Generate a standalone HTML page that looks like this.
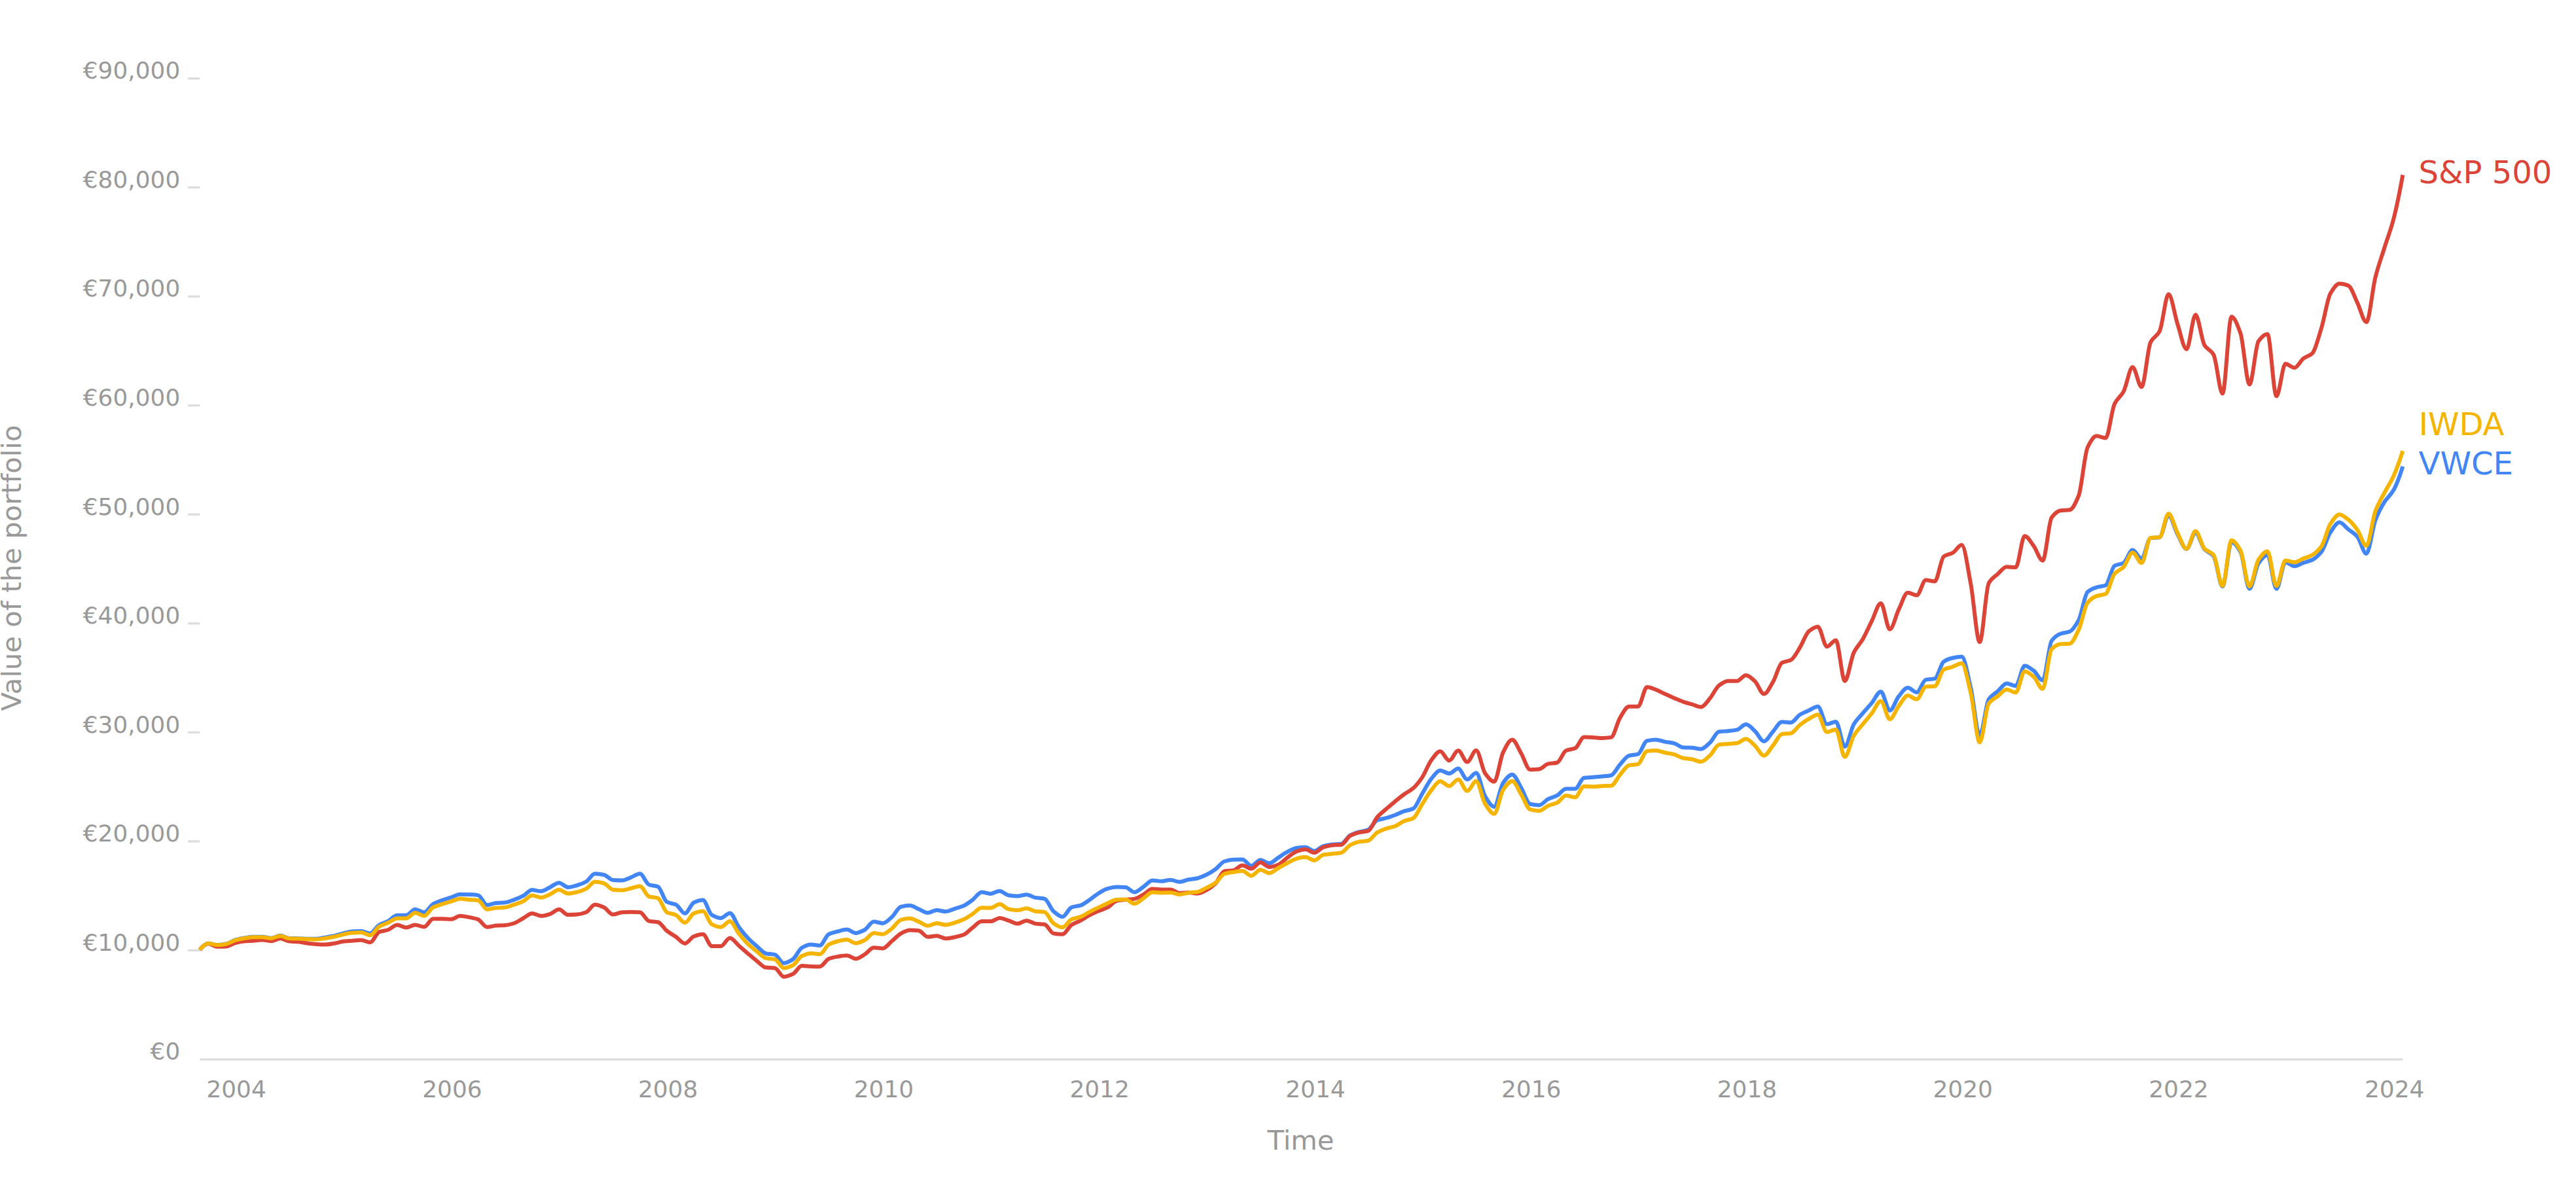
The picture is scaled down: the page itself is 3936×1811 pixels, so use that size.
<!DOCTYPE html>
<html><head><meta charset="utf-8"><title>Portfolio value over time</title>
<style>
html,body{margin:0;padding:0;background:#fff;}
svg{display:block;}
text{font-family:"DejaVu Sans","Liberation Sans",sans-serif;}
.t{font-size:36.3px;fill:#999999;}
.a{font-size:41.67px;fill:#999999;}
.s{font-size:48px;}
.l{fill:none;stroke-width:6;stroke-linejoin:round;stroke-linecap:butt;}
</style></head><body>
<svg width="3936" height="1811" viewBox="0 0 3936 1811">
<rect width="3936" height="1811" fill="#ffffff"/>
<text class="t" transform="translate(275.3 1619.3) scale(0.99 1)" text-anchor="end">€0</text>
<text class="t" transform="translate(275.3 1452.7) scale(0.99 1)" text-anchor="end">€10,000</text>
<line x1="287" y1="1452.4" x2="305.3" y2="1452.4" stroke="#dddddd" stroke-width="3.3"/>
<text class="t" transform="translate(275.3 1286.2) scale(0.99 1)" text-anchor="end">€20,000</text>
<line x1="287" y1="1285.9" x2="305.3" y2="1285.9" stroke="#dddddd" stroke-width="3.3"/>
<text class="t" transform="translate(275.3 1119.6) scale(0.99 1)" text-anchor="end">€30,000</text>
<line x1="287" y1="1119.3" x2="305.3" y2="1119.3" stroke="#dddddd" stroke-width="3.3"/>
<text class="t" transform="translate(275.3 953.1) scale(0.99 1)" text-anchor="end">€40,000</text>
<line x1="287" y1="952.8" x2="305.3" y2="952.8" stroke="#dddddd" stroke-width="3.3"/>
<text class="t" transform="translate(275.3 786.5) scale(0.99 1)" text-anchor="end">€50,000</text>
<line x1="287" y1="786.2" x2="305.3" y2="786.2" stroke="#dddddd" stroke-width="3.3"/>
<text class="t" transform="translate(275.3 619.9) scale(0.99 1)" text-anchor="end">€60,000</text>
<line x1="287" y1="619.6" x2="305.3" y2="619.6" stroke="#dddddd" stroke-width="3.3"/>
<text class="t" transform="translate(275.3 453.4) scale(0.99 1)" text-anchor="end">€70,000</text>
<line x1="287" y1="453.1" x2="305.3" y2="453.1" stroke="#dddddd" stroke-width="3.3"/>
<text class="t" transform="translate(275.3 286.8) scale(0.99 1)" text-anchor="end">€80,000</text>
<line x1="287" y1="286.5" x2="305.3" y2="286.5" stroke="#dddddd" stroke-width="3.3"/>
<text class="t" transform="translate(275.3 120.3) scale(0.99 1)" text-anchor="end">€90,000</text>
<line x1="287" y1="120.0" x2="305.3" y2="120.0" stroke="#dddddd" stroke-width="3.3"/>
<line x1="305.3" y1="1619.1" x2="3671.3" y2="1619.1" stroke="#dddddd" stroke-width="3.3"/>
<text class="t" transform="translate(361.1 1677) scale(0.99 1)" text-anchor="middle">2004</text>
<text class="t" transform="translate(690.9 1677) scale(0.99 1)" text-anchor="middle">2006</text>
<text class="t" transform="translate(1020.6 1677) scale(0.99 1)" text-anchor="middle">2008</text>
<text class="t" transform="translate(1350.4 1677) scale(0.99 1)" text-anchor="middle">2010</text>
<text class="t" transform="translate(1680.1 1677) scale(0.99 1)" text-anchor="middle">2012</text>
<text class="t" transform="translate(2009.9 1677) scale(0.99 1)" text-anchor="middle">2014</text>
<text class="t" transform="translate(2339.7 1677) scale(0.99 1)" text-anchor="middle">2016</text>
<text class="t" transform="translate(2669.4 1677) scale(0.99 1)" text-anchor="middle">2018</text>
<text class="t" transform="translate(2999.2 1677) scale(0.99 1)" text-anchor="middle">2020</text>
<text class="t" transform="translate(3328.9 1677) scale(0.99 1)" text-anchor="middle">2022</text>
<text class="t" transform="translate(3658.7 1677) scale(0.99 1)" text-anchor="middle">2024</text>
<text class="a" x="1987.5" y="1756.8" text-anchor="middle">Time</text>
<text class="a" transform="translate(32.2 868.0) rotate(-90)" text-anchor="middle">Value of the portfolio</text>
<path class="l" stroke="#4285F4" d="M305.3 1451.5C309.6 1446.3 314.0 1441.8 318.3 1441.8C322.9 1441.8 327.5 1444.3 332.1 1444.3C336.7 1444.3 341.2 1443.4 345.8 1442.5C350.4 1441.6 355.0 1437.8 359.6 1436.5C364.1 1435.2 368.7 1434.2 373.3 1433.5C377.9 1432.7 382.5 1431.7 387.0 1431.7C391.6 1431.7 396.2 1431.7 400.8 1431.7C405.4 1431.7 409.9 1433.7 414.5 1433.7C419.1 1433.7 423.7 1429.8 428.3 1429.8C432.8 1429.8 437.4 1433.9 442.0 1434.0C446.6 1434.1 451.1 1434.1 455.7 1434.2C460.3 1434.2 464.9 1434.6 469.5 1434.7C474.0 1434.7 478.6 1434.8 483.2 1434.8C487.8 1434.8 492.4 1433.4 496.9 1432.7C501.5 1431.9 506.1 1431.1 510.7 1430.2C515.3 1429.2 519.8 1427.6 524.4 1426.5C529.0 1425.4 533.6 1423.7 538.2 1423.5C542.7 1423.3 547.3 1423.1 551.9 1423.1C556.5 1423.1 561.1 1426.5 565.6 1426.5C570.2 1426.5 574.8 1416.1 579.4 1413.5C584.0 1410.8 588.5 1410.0 593.1 1407.6C597.7 1405.3 602.3 1398.8 606.9 1398.8C611.4 1398.8 616.0 1398.8 620.6 1398.8C625.2 1398.8 629.8 1389.7 634.3 1389.7C638.9 1389.7 643.5 1394.3 648.1 1394.3C652.7 1394.3 657.2 1384.4 661.8 1381.7C666.4 1379.1 671.0 1377.6 675.6 1375.9C680.1 1374.2 684.7 1372.9 689.3 1371.4C693.9 1369.9 698.5 1366.7 703.0 1366.7C707.6 1366.7 712.2 1366.9 716.8 1367.1C721.3 1367.2 725.9 1367.4 730.5 1368.1C735.1 1368.7 739.7 1383.1 744.2 1383.1C748.8 1383.1 753.4 1380.5 758.0 1380.1C762.6 1379.6 767.1 1379.7 771.7 1379.2C776.3 1378.8 780.9 1376.7 785.5 1375.1C790.0 1373.5 794.6 1371.6 799.2 1369.2C803.8 1366.9 808.4 1360.1 812.9 1360.1C817.5 1360.1 822.1 1362.1 826.7 1362.1C831.3 1362.1 835.8 1358.0 840.4 1355.9C845.0 1353.7 849.6 1349.2 854.2 1349.2C858.7 1349.2 863.3 1355.9 867.9 1355.9C872.5 1355.9 877.1 1354.3 881.6 1353.0C886.2 1351.8 890.8 1350.1 895.4 1347.5C900.0 1345.0 904.5 1335.3 909.1 1335.3C913.7 1335.3 918.3 1336.1 922.9 1337.0C927.4 1337.9 932.0 1344.7 936.6 1345.0C941.2 1345.3 945.8 1345.5 950.3 1345.5C954.9 1345.5 959.5 1342.5 964.1 1340.9C968.7 1339.2 973.2 1335.3 977.8 1335.3C982.4 1335.3 987.0 1350.3 991.6 1352.0C996.1 1353.7 1000.7 1353.3 1005.3 1355.0C1009.9 1356.8 1014.4 1376.1 1019.0 1378.4C1023.6 1380.8 1028.2 1380.5 1032.8 1382.6C1037.3 1384.7 1041.9 1395.9 1046.5 1395.9C1051.1 1395.9 1055.7 1381.3 1060.2 1379.2C1064.8 1377.2 1069.4 1375.6 1074.0 1375.6C1078.6 1375.6 1083.1 1395.9 1087.7 1398.4C1092.3 1401.0 1096.9 1403.0 1101.5 1403.0C1106.0 1403.0 1110.6 1395.4 1115.2 1395.4C1119.8 1395.4 1124.4 1410.6 1128.9 1416.8C1133.5 1423.1 1138.1 1428.7 1142.7 1433.5C1147.3 1438.3 1151.8 1442.1 1156.4 1446.0C1161.0 1450.0 1165.6 1456.2 1170.2 1457.2C1174.7 1458.2 1179.3 1457.9 1183.9 1458.9C1188.5 1459.9 1193.1 1471.9 1197.6 1471.9C1202.2 1471.9 1206.8 1469.0 1211.4 1466.1C1216.0 1463.1 1220.5 1451.1 1225.1 1448.5C1229.7 1445.9 1234.3 1443.5 1238.9 1443.5C1243.4 1443.5 1248.0 1444.9 1252.6 1444.9C1257.2 1444.9 1261.8 1429.9 1266.3 1427.7C1270.9 1425.4 1275.5 1424.7 1280.1 1423.5C1284.6 1422.3 1289.2 1420.5 1293.8 1420.5C1298.4 1420.5 1303.0 1426.0 1307.5 1426.0C1312.1 1426.0 1316.7 1423.4 1321.3 1421.0C1325.9 1418.6 1330.4 1408.5 1335.0 1408.5C1339.6 1408.5 1344.2 1411.0 1348.8 1411.0C1353.3 1411.0 1357.9 1405.7 1362.5 1401.8C1367.1 1397.9 1371.7 1387.2 1376.2 1385.9C1380.8 1384.7 1385.4 1383.8 1390.0 1383.8C1394.6 1383.8 1399.1 1387.4 1403.7 1389.3C1408.3 1391.2 1412.9 1395.1 1417.5 1395.1C1422.0 1395.1 1426.6 1390.9 1431.2 1390.9C1435.8 1390.9 1440.4 1393.1 1444.9 1393.1C1449.5 1393.1 1454.1 1390.2 1458.7 1388.8C1463.3 1387.3 1467.8 1386.3 1472.4 1384.3C1477.0 1382.2 1481.6 1378.5 1486.2 1375.1C1490.7 1371.6 1495.3 1363.4 1499.9 1363.4C1504.5 1363.4 1509.1 1365.9 1513.6 1365.9C1518.2 1365.9 1522.8 1361.7 1527.4 1361.7C1532.0 1361.7 1536.5 1367.6 1541.1 1368.2C1545.7 1368.9 1550.3 1369.4 1554.8 1369.4C1559.4 1369.4 1564.0 1367.2 1568.6 1367.2C1573.2 1367.2 1577.7 1371.1 1582.3 1371.9C1586.9 1372.7 1591.5 1372.5 1596.1 1373.6C1600.6 1374.6 1605.2 1388.9 1609.8 1392.8C1614.4 1396.6 1619.0 1401.1 1623.5 1401.1C1628.1 1401.1 1632.7 1388.2 1637.3 1386.6C1641.9 1384.9 1646.4 1385.0 1651.0 1383.6C1655.6 1382.1 1660.2 1378.3 1664.8 1375.2C1669.3 1372.2 1673.9 1368.0 1678.5 1365.2C1683.1 1362.5 1687.7 1359.5 1692.2 1358.2C1696.8 1356.9 1701.4 1355.5 1706.0 1355.5C1710.6 1355.5 1715.1 1355.7 1719.7 1356.0C1724.3 1356.3 1728.9 1363.5 1733.5 1363.5C1738.0 1363.5 1742.6 1358.2 1747.2 1355.2C1751.8 1352.2 1756.4 1345.5 1760.9 1345.5C1765.5 1345.5 1770.1 1346.8 1774.7 1346.8C1779.3 1346.8 1783.8 1344.8 1788.4 1344.8C1793.0 1344.8 1797.6 1347.7 1802.2 1347.7C1806.7 1347.7 1811.3 1345.2 1815.9 1344.3C1820.5 1343.5 1825.0 1343.2 1829.6 1342.2C1834.2 1341.1 1838.8 1339.0 1843.4 1336.8C1847.9 1334.7 1852.5 1331.8 1857.1 1328.5C1861.7 1325.2 1866.3 1317.9 1870.8 1316.5C1875.4 1315.0 1880.0 1314.0 1884.6 1313.8C1889.2 1313.6 1893.7 1313.5 1898.3 1313.5C1902.9 1313.5 1907.5 1323.1 1912.1 1323.1C1916.6 1323.1 1921.2 1314.3 1925.8 1314.3C1930.4 1314.3 1935.0 1319.3 1939.5 1319.3C1944.1 1319.3 1948.7 1313.5 1953.3 1310.6C1957.9 1307.7 1962.4 1304.3 1967.0 1301.9C1971.6 1299.6 1976.2 1296.6 1980.8 1295.9C1985.3 1295.3 1989.9 1294.8 1994.5 1294.8C1999.1 1294.8 2003.7 1300.6 2008.2 1300.6C2012.8 1300.6 2017.4 1294.3 2022.0 1293.1C2026.6 1291.8 2031.1 1291.0 2035.7 1290.6C2040.3 1290.2 2044.9 1290.3 2049.5 1289.7C2054.0 1289.2 2058.6 1278.8 2063.2 1276.4C2067.8 1274.0 2072.4 1272.7 2076.9 1271.4C2081.5 1270.0 2086.1 1269.9 2090.7 1268.0C2095.2 1266.2 2099.8 1255.3 2104.4 1253.5C2109.0 1251.7 2113.6 1251.5 2118.1 1250.2C2122.7 1248.9 2127.3 1247.2 2131.9 1245.5C2136.5 1243.8 2141.0 1241.2 2145.6 1239.7C2150.2 1238.1 2154.8 1238.0 2159.4 1235.8C2163.9 1233.6 2168.5 1220.5 2173.1 1213.0C2177.7 1205.4 2182.3 1195.9 2186.8 1190.4C2191.4 1184.9 2196.0 1177.4 2200.6 1177.4C2205.2 1177.4 2209.7 1182.1 2214.3 1182.1C2218.9 1182.1 2223.5 1174.6 2228.1 1174.6C2232.6 1174.6 2237.2 1191.2 2241.8 1191.2C2246.4 1191.2 2251.0 1181.2 2255.5 1181.2C2260.1 1181.2 2264.7 1209.8 2269.3 1217.1C2273.9 1224.5 2278.4 1233.0 2283.0 1233.0C2287.6 1233.0 2292.2 1202.5 2296.8 1196.3C2301.3 1190.0 2305.9 1183.7 2310.5 1183.7C2315.1 1183.7 2319.7 1196.3 2324.2 1203.8C2328.8 1211.2 2333.4 1227.8 2338.0 1228.8C2342.6 1229.9 2347.1 1230.5 2351.7 1230.5C2356.3 1230.5 2360.9 1223.6 2365.4 1221.2C2370.0 1218.9 2374.6 1218.1 2379.2 1215.7C2383.8 1213.3 2388.3 1205.5 2392.9 1205.5C2397.5 1205.5 2402.1 1205.5 2406.7 1205.5C2411.2 1205.5 2415.8 1189.3 2420.4 1188.7C2425.0 1188.2 2429.6 1188.2 2434.1 1187.8C2438.7 1187.5 2443.3 1187.0 2447.9 1186.5C2452.5 1186.1 2457.0 1185.9 2461.6 1185.0C2466.2 1184.1 2470.8 1173.3 2475.4 1168.3C2479.9 1163.3 2484.5 1156.0 2489.1 1154.8C2493.7 1153.5 2498.3 1153.9 2502.8 1152.5C2507.4 1151.2 2512.0 1133.0 2516.6 1132.1C2521.2 1131.2 2525.7 1130.6 2530.3 1130.6C2534.9 1130.6 2539.5 1132.8 2544.1 1133.6C2548.6 1134.5 2553.2 1134.7 2557.8 1135.8C2562.4 1136.9 2567.0 1142.1 2571.5 1142.3C2576.1 1142.6 2580.7 1142.5 2585.3 1142.7C2589.9 1142.9 2594.4 1144.7 2599.0 1144.7C2603.6 1144.7 2608.2 1139.0 2612.8 1134.9C2617.3 1130.8 2621.9 1118.8 2626.5 1118.2C2631.1 1117.6 2635.7 1117.7 2640.2 1117.3C2644.8 1116.9 2649.4 1116.4 2654.0 1115.4C2658.5 1114.4 2663.1 1107.1 2667.7 1107.1C2672.3 1107.1 2676.9 1113.1 2681.4 1117.3C2686.0 1121.4 2690.6 1133.0 2695.2 1133.0C2699.8 1133.0 2704.3 1123.1 2708.9 1118.2C2713.5 1113.2 2718.1 1103.3 2722.7 1103.3C2727.2 1103.3 2731.8 1104.3 2736.4 1104.3C2741.0 1104.3 2745.6 1095.0 2750.1 1092.2C2754.7 1089.4 2759.3 1087.8 2763.9 1085.7C2768.5 1083.6 2773.0 1079.8 2777.6 1079.8C2782.2 1079.8 2786.8 1106.7 2791.4 1106.7C2795.9 1106.7 2800.5 1103.0 2805.1 1103.0C2809.7 1103.0 2814.3 1141.0 2818.8 1141.0C2823.4 1141.0 2828.0 1114.2 2832.6 1106.7C2837.2 1099.2 2841.7 1095.4 2846.3 1090.0C2850.9 1084.6 2855.5 1079.7 2860.1 1074.2C2864.6 1068.7 2869.2 1056.9 2873.8 1056.9C2878.4 1056.9 2883.0 1085.9 2887.5 1085.9C2892.1 1085.9 2896.7 1069.4 2901.3 1064.0C2905.9 1058.5 2910.4 1051.0 2915.0 1051.0C2919.6 1051.0 2924.2 1058.0 2928.7 1058.0C2933.3 1058.0 2937.9 1040.0 2942.5 1038.9C2947.1 1037.8 2951.6 1038.2 2956.2 1037.1C2960.8 1035.9 2965.4 1014.1 2970.0 1011.1C2974.5 1008.0 2979.1 1006.4 2983.7 1005.5C2988.3 1004.6 2992.9 1003.6 2997.4 1003.6C3002.0 1003.6 3006.6 1031.8 3011.2 1051.0C3015.8 1070.2 3020.3 1124.3 3024.9 1124.3C3029.5 1124.3 3034.1 1075.2 3038.7 1068.6C3043.2 1062.0 3047.8 1060.6 3052.4 1056.5C3057.0 1052.5 3061.6 1044.5 3066.1 1044.5C3070.7 1044.5 3075.3 1048.2 3079.9 1048.2C3084.5 1048.2 3089.0 1017.6 3093.6 1017.6C3098.2 1017.6 3102.8 1021.7 3107.4 1025.0C3111.9 1028.3 3116.5 1039.8 3121.1 1039.8C3125.7 1039.8 3130.3 985.3 3134.8 979.2C3139.4 973.1 3144.0 970.1 3148.6 968.5C3153.2 966.9 3157.7 967.1 3162.3 965.3C3166.9 963.5 3171.5 956.0 3176.1 947.6C3180.6 939.2 3185.2 908.6 3189.8 904.6C3194.4 900.6 3198.9 899.0 3203.5 897.6C3208.1 896.1 3212.7 896.3 3217.3 894.4C3221.8 892.5 3226.4 867.3 3231.0 864.7C3235.6 862.1 3240.2 862.7 3244.7 860.3C3249.3 857.8 3253.9 840.6 3258.5 840.6C3263.1 840.6 3267.6 853.9 3272.2 853.9C3276.8 853.9 3281.4 822.9 3286.0 822.3C3290.5 821.6 3295.1 821.9 3299.7 821.3C3304.3 820.6 3308.9 787.8 3313.4 787.8C3318.0 787.8 3322.6 808.2 3327.2 816.6C3331.8 825.0 3336.3 838.9 3340.9 838.9C3345.5 838.9 3350.1 814.2 3354.7 814.2C3359.2 814.2 3363.8 834.7 3368.4 839.5C3373.0 844.3 3377.6 844.1 3382.1 849.6C3386.7 855.2 3391.3 896.3 3395.9 896.3C3400.5 896.3 3405.0 828.5 3409.6 828.5C3414.2 828.5 3418.8 835.5 3423.4 843.4C3427.9 851.2 3432.5 900.0 3437.1 900.0C3441.7 900.0 3446.3 867.5 3450.8 861.0C3455.4 854.5 3460.0 848.0 3464.6 848.0C3469.1 848.0 3473.7 900.0 3478.3 900.0C3482.9 900.0 3487.5 859.2 3492.0 859.2C3496.6 859.2 3501.2 865.3 3505.8 865.3C3510.4 865.3 3514.9 861.7 3519.5 860.1C3524.1 858.5 3528.7 857.7 3533.3 855.5C3537.8 853.2 3542.4 849.1 3547.0 843.4C3551.6 837.7 3556.2 820.4 3560.7 813.7C3565.3 806.9 3569.9 798.3 3574.5 798.3C3579.1 798.3 3583.6 805.4 3588.2 809.0C3592.8 812.7 3597.4 815.0 3602.0 820.2C3606.5 825.4 3611.1 846.2 3615.7 846.2C3620.3 846.2 3624.9 807.1 3629.4 795.1C3634.0 783.1 3638.6 774.5 3643.2 767.3C3647.8 760.1 3652.3 757.4 3656.9 749.6C3661.7 741.4 3666.5 728.2 3671.3 712.8"/>
<path class="l" stroke="#DB4437" d="M305.3 1451.5C309.6 1446.2 314.0 1442.2 318.3 1442.2C322.9 1442.2 327.5 1446.8 332.1 1446.8C336.7 1446.8 341.2 1446.7 345.8 1446.5C350.4 1446.3 355.0 1442.1 359.6 1441.0C364.1 1439.9 368.7 1438.9 373.3 1438.5C377.9 1438.1 382.5 1438.0 387.0 1437.7C391.6 1437.3 396.2 1436.5 400.8 1436.5C405.4 1436.5 409.9 1438.2 414.5 1438.2C419.1 1438.2 423.7 1434.3 428.3 1434.3C432.8 1434.3 437.4 1438.0 442.0 1438.5C446.6 1439.0 451.1 1438.9 455.7 1439.3C460.3 1439.7 464.9 1440.9 469.5 1441.5C474.0 1442.1 478.6 1442.8 483.2 1443.0C487.8 1443.3 492.4 1443.5 496.9 1443.5C501.5 1443.5 506.1 1442.6 510.7 1441.8C515.3 1441.1 519.8 1439.4 524.4 1438.8C529.0 1438.3 533.6 1438.0 538.2 1437.7C542.7 1437.3 547.3 1436.8 551.9 1436.8C556.5 1436.8 561.1 1440.2 565.6 1440.2C570.2 1440.2 574.8 1426.1 579.4 1424.3C584.0 1422.5 588.5 1422.5 593.1 1421.0C597.7 1419.4 602.3 1413.5 606.9 1413.5C611.4 1413.5 616.0 1417.6 620.6 1417.6C625.2 1417.6 629.8 1413.5 634.3 1413.5C638.9 1413.5 643.5 1416.5 648.1 1416.5C652.7 1416.5 657.2 1404.3 661.8 1404.3C666.4 1404.3 671.0 1404.3 675.6 1404.3C680.1 1404.3 684.7 1404.8 689.3 1404.8C693.9 1404.8 698.5 1399.8 703.0 1399.8C707.6 1399.8 712.2 1400.9 716.8 1401.8C721.3 1402.6 725.9 1403.4 730.5 1405.1C735.1 1406.9 739.7 1416.8 744.2 1416.8C748.8 1416.8 753.4 1415.0 758.0 1414.6C762.6 1414.3 767.1 1414.3 771.7 1414.0C776.3 1413.6 780.9 1412.4 785.5 1411.0C790.0 1409.5 794.6 1406.0 799.2 1403.5C803.8 1401.0 808.4 1395.9 812.9 1395.9C817.5 1395.9 822.1 1399.8 826.7 1399.8C831.3 1399.8 835.8 1398.2 840.4 1396.8C845.0 1395.4 849.6 1389.8 854.2 1389.8C858.7 1389.8 863.3 1398.1 867.9 1398.1C872.5 1398.1 877.1 1397.9 881.6 1397.6C886.2 1397.3 890.8 1396.0 895.4 1394.3C900.0 1392.5 904.5 1382.6 909.1 1382.6C913.7 1382.6 918.3 1384.8 922.9 1386.8C927.4 1388.8 932.0 1397.6 936.6 1397.6C941.2 1397.6 945.8 1394.6 950.3 1394.3C954.9 1394.0 959.5 1393.8 964.1 1393.8C968.7 1393.8 973.2 1394.0 977.8 1394.3C982.4 1394.6 987.0 1406.6 991.6 1407.6C996.1 1408.6 1000.7 1408.3 1005.3 1409.3C1009.9 1410.3 1014.4 1419.0 1019.0 1422.7C1023.6 1426.3 1028.2 1428.6 1032.8 1431.8C1037.3 1435.0 1041.9 1441.9 1046.5 1441.9C1051.1 1441.9 1055.7 1432.7 1060.2 1431.0C1064.8 1429.3 1069.4 1427.7 1074.0 1427.7C1078.6 1427.7 1083.1 1446.0 1087.7 1446.0C1092.3 1446.0 1096.9 1446.0 1101.5 1446.0C1106.0 1446.0 1110.6 1433.5 1115.2 1433.5C1119.8 1433.5 1124.4 1441.2 1128.9 1445.2C1133.5 1449.1 1138.1 1453.3 1142.7 1457.2C1147.3 1461.1 1151.8 1465.0 1156.4 1468.6C1161.0 1472.1 1165.6 1478.1 1170.2 1478.6C1174.7 1479.1 1179.3 1478.9 1183.9 1479.4C1188.5 1479.9 1193.1 1492.8 1197.6 1492.8C1202.2 1492.8 1206.8 1490.7 1211.4 1488.6C1216.0 1486.5 1220.5 1476.1 1225.1 1476.1C1229.7 1476.1 1234.3 1476.8 1238.9 1476.9C1243.4 1477.1 1248.0 1477.2 1252.6 1477.2C1257.2 1477.2 1261.8 1467.0 1266.3 1465.2C1270.9 1463.5 1275.5 1462.6 1280.1 1461.9C1284.6 1461.1 1289.2 1460.2 1293.8 1460.2C1298.4 1460.2 1303.0 1465.2 1307.5 1465.2C1312.1 1465.2 1316.7 1461.3 1321.3 1458.5C1325.9 1455.8 1330.4 1448.2 1335.0 1448.2C1339.6 1448.2 1344.2 1449.4 1348.8 1449.4C1353.3 1449.4 1357.9 1442.3 1362.5 1438.5C1367.1 1434.8 1371.7 1429.3 1376.2 1426.8C1380.8 1424.4 1385.4 1421.5 1390.0 1421.5C1394.6 1421.5 1399.1 1421.7 1403.7 1422.2C1408.3 1422.6 1412.9 1431.8 1417.5 1431.8C1422.0 1431.8 1426.6 1430.2 1431.2 1430.2C1435.8 1430.2 1440.4 1434.3 1444.9 1434.3C1449.5 1434.3 1454.1 1433.1 1458.7 1432.2C1463.3 1431.3 1467.8 1430.3 1472.4 1428.5C1477.0 1426.7 1481.6 1421.0 1486.2 1417.6C1490.7 1414.3 1495.3 1408.1 1499.9 1408.1C1504.5 1408.1 1509.1 1408.1 1513.6 1408.1C1518.2 1408.1 1522.8 1403.1 1527.4 1403.1C1532.0 1403.1 1536.5 1405.5 1541.1 1406.9C1545.7 1408.3 1550.3 1411.6 1554.8 1411.6C1559.4 1411.6 1564.0 1406.9 1568.6 1406.9C1573.2 1406.9 1577.7 1411.0 1582.3 1411.6C1586.9 1412.2 1591.5 1412.1 1596.1 1412.8C1600.6 1413.5 1605.2 1425.9 1609.8 1426.6C1614.4 1427.4 1619.0 1427.8 1623.5 1427.8C1628.1 1427.8 1632.7 1416.6 1637.3 1413.6C1641.9 1410.6 1646.4 1409.4 1651.0 1406.9C1655.6 1404.5 1660.2 1401.0 1664.8 1398.6C1669.3 1396.2 1673.9 1394.2 1678.5 1392.3C1683.1 1390.3 1687.7 1389.2 1692.2 1386.9C1696.8 1384.6 1701.4 1378.0 1706.0 1376.9C1710.6 1375.8 1715.1 1375.4 1719.7 1374.9C1724.3 1374.4 1728.9 1374.3 1733.5 1373.6C1738.0 1372.8 1742.6 1369.4 1747.2 1366.9C1751.8 1364.4 1756.4 1358.5 1760.9 1358.5C1765.5 1358.5 1770.1 1359.4 1774.7 1359.4C1779.3 1359.4 1783.8 1359.4 1788.4 1359.4C1793.0 1359.4 1797.6 1364.9 1802.2 1364.9C1806.7 1364.9 1811.3 1363.9 1815.9 1363.9C1820.5 1363.9 1825.0 1365.5 1829.6 1365.5C1834.2 1365.5 1838.8 1362.5 1843.4 1360.2C1847.9 1357.9 1852.5 1354.5 1857.1 1350.2C1861.7 1345.8 1866.3 1332.3 1870.8 1331.5C1875.4 1330.7 1880.0 1330.9 1884.6 1330.2C1889.2 1329.4 1893.7 1322.6 1898.3 1322.6C1902.9 1322.6 1907.5 1327.6 1912.1 1327.6C1916.6 1327.6 1921.2 1318.1 1925.8 1318.1C1930.4 1318.1 1935.0 1325.1 1939.5 1325.1C1944.1 1325.1 1948.7 1323.3 1953.3 1321.5C1957.9 1319.6 1962.4 1313.9 1967.0 1310.6C1971.6 1307.3 1976.2 1303.1 1980.8 1301.4C1985.3 1299.8 1989.9 1298.1 1994.5 1298.1C1999.1 1298.1 2003.7 1303.1 2008.2 1303.1C2012.8 1303.1 2017.4 1296.2 2022.0 1294.8C2026.6 1293.3 2031.1 1292.2 2035.7 1291.7C2040.3 1291.3 2044.9 1291.4 2049.5 1290.9C2054.0 1290.4 2058.6 1279.7 2063.2 1277.2C2067.8 1274.8 2072.4 1273.3 2076.9 1272.2C2081.5 1271.1 2086.1 1271.2 2090.7 1269.7C2095.2 1268.2 2099.8 1254.1 2104.4 1248.8C2109.0 1243.6 2113.6 1240.4 2118.1 1236.3C2122.7 1232.3 2127.3 1228.4 2131.9 1224.6C2136.5 1220.9 2141.0 1217.1 2145.6 1213.8C2150.2 1210.5 2154.8 1208.6 2159.4 1204.6C2163.9 1200.7 2168.5 1194.7 2173.1 1187.9C2177.7 1181.1 2182.3 1168.0 2186.8 1162.0C2191.4 1156.1 2196.0 1148.3 2200.6 1148.3C2205.2 1148.3 2209.7 1162.4 2214.3 1162.4C2218.9 1162.4 2223.5 1147.0 2228.1 1147.0C2232.6 1147.0 2237.2 1164.5 2241.8 1164.5C2246.4 1164.5 2251.0 1146.7 2255.5 1146.7C2260.1 1146.7 2264.7 1175.9 2269.3 1182.1C2273.9 1188.2 2278.4 1194.6 2283.0 1194.6C2287.6 1194.6 2292.2 1158.4 2296.8 1149.5C2301.3 1140.6 2305.9 1130.5 2310.5 1130.5C2315.1 1130.5 2319.7 1143.6 2324.2 1151.2C2328.8 1158.7 2333.4 1176.2 2338.0 1176.2C2342.6 1176.2 2347.1 1175.9 2351.7 1175.4C2356.3 1174.9 2360.9 1168.4 2365.4 1167.4C2370.0 1166.4 2374.6 1166.7 2379.2 1165.5C2383.8 1164.4 2388.3 1148.9 2392.9 1147.0C2397.5 1145.1 2402.1 1145.5 2406.7 1143.6C2411.2 1141.8 2415.8 1126.5 2420.4 1126.5C2425.0 1126.5 2429.6 1126.7 2434.1 1126.9C2438.7 1127.1 2443.3 1128.0 2447.9 1128.0C2452.5 1128.0 2457.0 1127.6 2461.6 1126.9C2466.2 1126.2 2470.8 1104.1 2475.4 1096.8C2479.9 1089.6 2484.5 1079.8 2489.1 1079.8C2493.7 1079.8 2498.3 1079.8 2502.8 1079.8C2507.4 1079.8 2512.0 1050.1 2516.6 1050.1C2521.2 1050.1 2525.7 1052.5 2530.3 1054.1C2534.9 1055.8 2539.5 1058.5 2544.1 1060.6C2548.6 1062.7 2553.2 1064.8 2557.8 1066.8C2562.4 1068.7 2567.0 1070.8 2571.5 1072.3C2576.1 1073.9 2580.7 1075.1 2585.3 1076.4C2589.9 1077.8 2594.4 1080.5 2599.0 1080.5C2603.6 1080.5 2608.2 1072.4 2612.8 1067.1C2617.3 1061.8 2621.9 1051.0 2626.5 1047.6C2631.1 1044.3 2635.7 1040.8 2640.2 1040.8C2644.8 1040.8 2649.4 1040.8 2654.0 1040.8C2658.5 1040.8 2663.1 1031.9 2667.7 1031.9C2672.3 1031.9 2676.9 1036.9 2681.4 1041.1C2686.0 1045.3 2690.6 1060.6 2695.2 1060.6C2699.8 1060.6 2704.3 1049.9 2708.9 1042.4C2713.5 1034.9 2718.1 1015.4 2722.7 1012.9C2727.2 1010.4 2731.8 1010.9 2736.4 1008.6C2741.0 1006.3 2745.6 996.9 2750.1 989.7C2754.7 982.5 2759.3 968.2 2763.9 964.6C2768.5 961.0 2773.0 957.7 2777.6 957.7C2782.2 957.7 2786.8 988.2 2791.4 988.2C2795.9 988.2 2800.5 978.5 2805.1 978.5C2809.7 978.5 2814.3 1040.7 2818.8 1040.7C2823.4 1040.7 2828.0 1006.4 2832.6 997.1C2837.2 987.8 2841.7 984.5 2846.3 976.7C2850.9 968.8 2855.5 958.0 2860.1 948.8C2864.6 939.7 2869.2 921.9 2873.8 921.9C2878.4 921.9 2883.0 961.8 2887.5 961.8C2892.1 961.8 2896.7 940.5 2901.3 931.2C2905.9 921.9 2910.4 905.8 2915.0 905.8C2919.6 905.8 2924.2 909.8 2928.7 909.8C2933.3 909.8 2937.9 886.6 2942.5 886.6C2947.1 886.6 2951.6 888.5 2956.2 888.5C2960.8 888.5 2965.4 853.7 2970.0 850.4C2974.5 847.2 2979.1 847.4 2983.7 844.9C2988.3 842.3 2992.9 832.8 2997.4 832.8C3002.0 832.8 3006.6 868.4 3011.2 892.2C3015.8 916.0 3020.3 981.3 3024.9 981.3C3029.5 981.3 3034.1 899.3 3038.7 891.3C3043.2 883.2 3047.8 881.5 3052.4 877.3C3057.0 873.2 3061.6 866.2 3066.1 866.2C3070.7 866.2 3075.3 867.1 3079.9 867.1C3084.5 867.1 3089.0 819.2 3093.6 819.2C3098.2 819.2 3102.8 828.4 3107.4 834.4C3111.9 840.5 3116.5 856.7 3121.1 856.7C3125.7 856.7 3130.3 797.0 3134.8 790.9C3139.4 784.7 3144.0 780.7 3148.6 780.2C3153.2 779.6 3157.7 779.9 3162.3 779.3C3166.9 778.8 3171.5 768.7 3176.1 757.5C3180.6 746.2 3185.2 692.9 3189.8 683.5C3194.4 674.2 3198.9 666.3 3203.5 666.3C3208.1 666.3 3212.7 669.4 3217.3 669.4C3221.8 669.4 3226.4 626.4 3231.0 617.2C3235.6 608.0 3240.2 606.7 3244.7 598.3C3249.3 589.9 3253.9 561.0 3258.5 561.0C3263.1 561.0 3267.6 591.4 3272.2 591.4C3276.8 591.4 3281.4 531.9 3286.0 523.0C3290.5 514.1 3295.1 514.9 3299.7 506.3C3304.3 497.8 3308.9 449.6 3313.4 449.6C3318.0 449.6 3322.6 481.3 3327.2 495.2C3331.8 509.1 3336.3 533.7 3340.9 533.7C3345.5 533.7 3350.1 481.0 3354.7 481.0C3359.2 481.0 3363.8 520.4 3368.4 527.6C3373.0 534.9 3377.6 534.1 3382.1 541.8C3386.7 549.4 3391.3 601.5 3395.9 601.5C3400.5 601.5 3405.0 484.1 3409.6 484.1C3414.2 484.1 3418.8 496.6 3423.4 509.4C3427.9 522.1 3432.5 587.4 3437.1 587.4C3441.7 587.4 3446.3 527.9 3450.8 521.5C3455.4 515.2 3460.0 510.4 3464.6 510.4C3469.1 510.4 3473.7 605.6 3478.3 605.6C3482.9 605.6 3487.5 556.0 3492.0 556.0C3496.6 556.0 3501.2 562.0 3505.8 562.0C3510.4 562.0 3514.9 551.3 3519.5 547.9C3524.1 544.4 3528.7 544.2 3533.3 539.8C3537.8 535.3 3542.4 516.1 3547.0 501.3C3551.6 486.5 3556.2 456.5 3560.7 448.6C3565.3 440.8 3569.9 433.4 3574.5 433.4C3579.1 433.4 3583.6 434.6 3588.2 436.5C3592.8 438.3 3597.4 453.5 3602.0 462.8C3606.5 472.0 3611.1 492.2 3615.7 492.2C3620.3 492.2 3624.9 442.1 3629.4 424.0C3634.0 405.9 3638.6 393.7 3643.2 379.0C3647.8 364.3 3652.3 353.3 3656.9 336.0C3661.7 317.9 3666.5 294.3 3671.3 267.4"/>
<path class="l" stroke="#F4B400" d="M305.3 1451.5C309.6 1446.3 314.0 1441.8 318.3 1441.8C322.9 1441.8 327.5 1444.3 332.1 1444.3C336.7 1444.3 341.2 1443.5 345.8 1442.7C350.4 1441.8 355.0 1438.1 359.6 1436.8C364.1 1435.6 368.7 1434.7 373.3 1434.0C377.9 1433.3 382.5 1432.4 387.0 1432.3C391.6 1432.2 396.2 1432.2 400.8 1432.2C405.4 1432.2 409.9 1434.0 414.5 1434.0C419.1 1434.0 423.7 1430.2 428.3 1430.2C432.8 1430.2 437.4 1434.2 442.0 1434.3C446.6 1434.4 451.1 1434.4 455.7 1434.5C460.3 1434.6 464.9 1435.0 469.5 1435.2C474.0 1435.3 478.6 1435.5 483.2 1435.5C487.8 1435.5 492.4 1434.6 496.9 1434.0C501.5 1433.4 506.1 1432.4 510.7 1431.5C515.3 1430.5 519.8 1429.1 524.4 1428.1C529.0 1427.2 533.6 1425.9 538.2 1425.6C542.7 1425.4 547.3 1425.1 551.9 1425.1C556.5 1425.1 561.1 1429.3 565.6 1429.3C570.2 1429.3 574.8 1418.7 579.4 1416.0C584.0 1413.3 588.5 1412.2 593.1 1410.1C597.7 1408.0 602.3 1403.4 606.9 1403.4C611.4 1403.4 616.0 1403.4 620.6 1403.4C625.2 1403.4 629.8 1395.1 634.3 1395.1C638.9 1395.1 643.5 1399.8 648.1 1399.8C652.7 1399.8 657.2 1389.2 661.8 1386.7C666.4 1384.3 671.0 1383.3 675.6 1381.7C680.1 1380.2 684.7 1379.0 689.3 1377.6C693.9 1376.2 698.5 1373.4 703.0 1373.4C707.6 1373.4 712.2 1374.7 716.8 1375.1C721.3 1375.4 725.9 1375.4 730.5 1375.9C735.1 1376.4 739.7 1389.8 744.2 1389.8C748.8 1389.8 753.4 1388.0 758.0 1387.6C762.6 1387.2 767.1 1387.2 771.7 1386.8C776.3 1386.3 780.9 1384.1 785.5 1382.6C790.0 1381.1 794.6 1379.7 799.2 1377.6C803.8 1375.4 808.4 1368.4 812.9 1368.4C817.5 1368.4 822.1 1371.7 826.7 1371.7C831.3 1371.7 835.8 1368.7 840.4 1366.7C845.0 1364.8 849.6 1359.7 854.2 1359.7C858.7 1359.7 863.3 1365.6 867.9 1365.6C872.5 1365.6 877.1 1364.4 881.6 1363.4C886.2 1362.4 890.8 1360.7 895.4 1358.4C900.0 1356.1 904.5 1347.5 909.1 1347.5C913.7 1347.5 918.3 1348.7 922.9 1350.0C927.4 1351.4 932.0 1359.3 936.6 1359.7C941.2 1360.1 945.8 1360.4 950.3 1360.4C954.9 1360.4 959.5 1358.6 964.1 1357.5C968.7 1356.5 973.2 1354.2 977.8 1354.2C982.4 1354.2 987.0 1368.6 991.6 1370.1C996.1 1371.5 1000.7 1371.1 1005.3 1372.6C1009.9 1374.1 1014.4 1391.9 1019.0 1394.3C1023.6 1396.6 1028.2 1396.4 1032.8 1398.4C1037.3 1400.5 1041.9 1410.1 1046.5 1410.1C1051.1 1410.1 1055.7 1397.7 1060.2 1395.9C1064.8 1394.1 1069.4 1392.6 1074.0 1392.6C1078.6 1392.6 1083.1 1410.3 1087.7 1412.6C1092.3 1414.9 1096.9 1416.8 1101.5 1416.8C1106.0 1416.8 1110.6 1408.1 1115.2 1408.1C1119.8 1408.1 1124.4 1421.1 1128.9 1426.8C1133.5 1432.5 1138.1 1438.3 1142.7 1442.7C1147.3 1447.1 1151.8 1450.3 1156.4 1453.9C1161.0 1457.5 1165.6 1463.4 1170.2 1464.4C1174.7 1465.4 1179.3 1465.1 1183.9 1466.1C1188.5 1467.0 1193.1 1479.4 1197.6 1479.4C1202.2 1479.4 1206.8 1477.4 1211.4 1475.2C1216.0 1473.1 1220.5 1463.2 1225.1 1461.1C1229.7 1458.9 1234.3 1456.9 1238.9 1456.9C1243.4 1456.9 1248.0 1458.2 1252.6 1458.2C1257.2 1458.2 1261.8 1446.0 1266.3 1443.5C1270.9 1441.0 1275.5 1439.6 1280.1 1438.5C1284.6 1437.4 1289.2 1436.0 1293.8 1436.0C1298.4 1436.0 1303.0 1441.5 1307.5 1441.5C1312.1 1441.5 1316.7 1439.0 1321.3 1436.8C1325.9 1434.7 1330.4 1426.0 1335.0 1426.0C1339.6 1426.0 1344.2 1427.7 1348.8 1427.7C1353.3 1427.7 1357.9 1422.7 1362.5 1419.3C1367.1 1415.9 1371.7 1407.4 1376.2 1406.0C1380.8 1404.6 1385.4 1403.5 1390.0 1403.5C1394.6 1403.5 1399.1 1406.6 1403.7 1408.5C1408.3 1410.3 1412.9 1414.8 1417.5 1414.8C1422.0 1414.8 1426.6 1411.0 1431.2 1411.0C1435.8 1411.0 1440.4 1413.5 1444.9 1413.5C1449.5 1413.5 1454.1 1411.5 1458.7 1410.1C1463.3 1408.8 1467.8 1407.2 1472.4 1405.1C1477.0 1403.0 1481.6 1399.7 1486.2 1396.8C1490.7 1393.8 1495.3 1387.3 1499.9 1387.3C1504.5 1387.3 1509.1 1387.6 1513.6 1387.6C1518.2 1387.6 1522.8 1381.8 1527.4 1381.8C1532.0 1381.8 1536.5 1388.5 1541.1 1389.4C1545.7 1390.3 1550.3 1391.1 1554.8 1391.1C1559.4 1391.1 1564.0 1388.2 1568.6 1388.2C1573.2 1388.2 1577.7 1392.1 1582.3 1392.8C1586.9 1393.4 1591.5 1393.2 1596.1 1393.9C1600.6 1394.7 1605.2 1408.1 1609.8 1411.1C1614.4 1414.1 1619.0 1417.3 1623.5 1417.3C1628.1 1417.3 1632.7 1406.9 1637.3 1404.9C1641.9 1403.0 1646.4 1402.8 1651.0 1401.1C1655.6 1399.4 1660.2 1395.9 1664.8 1393.6C1669.3 1391.2 1673.9 1389.1 1678.5 1386.9C1683.1 1384.7 1687.7 1382.6 1692.2 1380.6C1696.8 1378.6 1701.4 1375.2 1706.0 1374.9C1710.6 1374.6 1715.1 1374.4 1719.7 1374.4C1724.3 1374.4 1728.9 1381.1 1733.5 1381.1C1738.0 1381.1 1742.6 1375.6 1747.2 1372.7C1751.8 1369.8 1756.4 1363.5 1760.9 1363.5C1765.5 1363.5 1770.1 1364.4 1774.7 1364.4C1779.3 1364.4 1783.8 1363.9 1788.4 1363.9C1793.0 1363.9 1797.6 1366.9 1802.2 1366.9C1806.7 1366.9 1811.3 1364.9 1815.9 1364.4C1820.5 1363.8 1825.0 1363.9 1829.6 1363.2C1834.2 1362.5 1838.8 1359.2 1843.4 1356.9C1847.9 1354.6 1852.5 1352.6 1857.1 1349.3C1861.7 1346.1 1866.3 1337.1 1870.8 1335.5C1875.4 1333.9 1880.0 1333.4 1884.6 1332.7C1889.2 1332.0 1893.7 1331.0 1898.3 1331.0C1902.9 1331.0 1907.5 1338.5 1912.1 1338.5C1916.6 1338.5 1921.2 1329.3 1925.8 1329.3C1930.4 1329.3 1935.0 1334.3 1939.5 1334.3C1944.1 1334.3 1948.7 1329.0 1953.3 1326.5C1957.9 1323.9 1962.4 1321.3 1967.0 1319.0C1971.6 1316.6 1976.2 1313.5 1980.8 1312.3C1985.3 1311.1 1989.9 1309.8 1994.5 1309.8C1999.1 1309.8 2003.7 1314.8 2008.2 1314.8C2012.8 1314.8 2017.4 1307.4 2022.0 1306.4C2026.6 1305.5 2031.1 1305.3 2035.7 1304.8C2040.3 1304.2 2044.9 1304.1 2049.5 1303.1C2054.0 1302.1 2058.6 1293.8 2063.2 1291.4C2067.8 1289.1 2072.4 1287.2 2076.9 1286.4C2081.5 1285.6 2086.1 1285.7 2090.7 1284.7C2095.2 1283.8 2099.8 1274.9 2104.4 1272.2C2109.0 1269.6 2113.6 1267.9 2118.1 1266.4C2122.7 1264.8 2127.3 1264.3 2131.9 1262.5C2136.5 1260.8 2141.0 1256.5 2145.6 1254.7C2150.2 1252.9 2154.8 1252.8 2159.4 1250.5C2163.9 1248.2 2168.5 1235.9 2173.1 1228.8C2177.7 1221.7 2182.3 1213.5 2186.8 1207.9C2191.4 1202.4 2196.0 1194.1 2200.6 1194.1C2205.2 1194.1 2209.7 1201.3 2214.3 1201.3C2218.9 1201.3 2223.5 1191.2 2228.1 1191.2C2232.6 1191.2 2237.2 1208.8 2241.8 1208.8C2246.4 1208.8 2251.0 1193.8 2255.5 1193.8C2260.1 1193.8 2264.7 1221.8 2269.3 1228.8C2273.9 1235.8 2278.4 1243.8 2283.0 1243.8C2287.6 1243.8 2292.2 1213.6 2296.8 1207.1C2301.3 1200.6 2305.9 1193.8 2310.5 1193.8C2315.1 1193.8 2319.7 1206.6 2324.2 1213.8C2328.8 1221.0 2333.4 1235.9 2338.0 1237.2C2342.6 1238.4 2347.1 1239.2 2351.7 1239.2C2356.3 1239.2 2360.9 1233.4 2365.4 1231.4C2370.0 1229.5 2374.6 1229.0 2379.2 1226.8C2383.8 1224.6 2388.3 1215.7 2392.9 1215.7C2397.5 1215.7 2402.1 1218.5 2406.7 1218.5C2411.2 1218.5 2415.8 1201.7 2420.4 1201.7C2425.0 1201.7 2429.6 1202.3 2434.1 1202.3C2438.7 1202.3 2443.3 1201.4 2447.9 1201.2C2452.5 1201.0 2457.0 1201.1 2461.6 1200.8C2466.2 1200.6 2470.8 1189.3 2475.4 1184.1C2479.9 1178.9 2484.5 1170.7 2489.1 1169.6C2493.7 1168.5 2498.3 1168.9 2502.8 1167.8C2507.4 1166.6 2512.0 1148.5 2516.6 1147.9C2521.2 1147.3 2525.7 1147.0 2530.3 1147.0C2534.9 1147.0 2539.5 1149.3 2544.1 1150.3C2548.6 1151.3 2553.2 1151.7 2557.8 1152.9C2562.4 1154.1 2567.0 1157.6 2571.5 1158.5C2576.1 1159.4 2580.7 1159.5 2585.3 1160.3C2589.9 1161.2 2594.4 1164.1 2599.0 1164.1C2603.6 1164.1 2608.2 1158.4 2612.8 1154.4C2617.3 1150.4 2621.9 1138.9 2626.5 1138.1C2631.1 1137.3 2635.7 1137.1 2640.2 1136.8C2644.8 1136.4 2649.4 1136.4 2654.0 1135.8C2658.5 1135.3 2663.1 1129.3 2667.7 1129.3C2672.3 1129.3 2676.9 1135.5 2681.4 1139.5C2686.0 1143.6 2690.6 1154.8 2695.2 1154.8C2699.8 1154.8 2704.3 1145.0 2708.9 1139.5C2713.5 1134.1 2718.1 1122.7 2722.7 1121.9C2727.2 1121.1 2731.8 1121.4 2736.4 1120.6C2741.0 1119.8 2745.6 1111.5 2750.1 1108.0C2754.7 1104.4 2759.3 1101.2 2763.9 1098.7C2768.5 1096.1 2773.0 1092.2 2777.6 1092.2C2782.2 1092.2 2786.8 1118.7 2791.4 1118.7C2795.9 1118.7 2800.5 1115.0 2805.1 1115.0C2809.7 1115.0 2814.3 1156.8 2818.8 1156.8C2823.4 1156.8 2828.0 1131.9 2832.6 1124.3C2837.2 1116.7 2841.7 1112.4 2846.3 1106.7C2850.9 1101.0 2855.5 1095.8 2860.1 1090.0C2864.6 1084.1 2869.2 1071.4 2873.8 1071.4C2878.4 1071.4 2883.0 1099.2 2887.5 1099.2C2892.1 1099.2 2896.7 1084.8 2901.3 1078.8C2905.9 1072.9 2910.4 1063.0 2915.0 1063.0C2919.6 1063.0 2924.2 1068.6 2928.7 1068.6C2933.3 1068.6 2937.9 1050.0 2942.5 1049.5C2947.1 1049.0 2951.6 1049.2 2956.2 1048.7C2960.8 1048.3 2965.4 1025.5 2970.0 1023.1C2974.5 1020.8 2979.1 1020.6 2983.7 1019.0C2988.3 1017.5 2992.9 1013.8 2997.4 1013.8C3002.0 1013.8 3006.6 1040.2 3011.2 1059.0C3015.8 1077.8 3020.3 1134.5 3024.9 1134.5C3029.5 1134.5 3034.1 1081.4 3038.7 1075.1C3043.2 1068.9 3047.8 1067.5 3052.4 1064.0C3057.0 1060.4 3061.6 1053.8 3066.1 1053.8C3070.7 1053.8 3075.3 1058.4 3079.9 1058.4C3084.5 1058.4 3089.0 1025.9 3093.6 1025.9C3098.2 1025.9 3102.8 1030.4 3107.4 1034.3C3111.9 1038.1 3116.5 1052.8 3121.1 1052.8C3125.7 1052.8 3130.3 996.4 3134.8 991.9C3139.4 987.4 3144.0 984.7 3148.6 984.3C3153.2 983.9 3157.7 984.1 3162.3 983.7C3166.9 983.3 3171.5 971.9 3176.1 962.5C3180.6 953.2 3185.2 926.4 3189.8 921.0C3194.4 915.6 3198.9 912.5 3203.5 910.9C3208.1 909.3 3212.7 909.6 3217.3 907.7C3221.8 905.8 3226.4 881.8 3231.0 876.7C3235.6 871.6 3240.2 871.2 3244.7 866.6C3249.3 861.9 3253.9 844.4 3258.5 844.4C3263.1 844.4 3267.6 860.3 3272.2 860.3C3276.8 860.3 3281.4 822.6 3286.0 822.0C3290.5 821.4 3295.1 821.7 3299.7 821.1C3304.3 820.5 3308.9 784.9 3313.4 784.9C3318.0 784.9 3322.6 805.7 3327.2 814.6C3331.8 823.5 3336.3 838.7 3340.9 838.7C3345.5 838.7 3350.1 811.8 3354.7 811.8C3359.2 811.8 3363.8 834.1 3368.4 838.7C3373.0 843.3 3377.6 842.9 3382.1 848.0C3386.7 853.2 3391.3 895.4 3395.9 895.4C3400.5 895.4 3405.0 825.7 3409.6 825.7C3414.2 825.7 3418.8 833.4 3423.4 841.5C3427.9 849.7 3432.5 896.3 3437.1 896.3C3441.7 896.3 3446.3 862.0 3450.8 855.5C3455.4 848.9 3460.0 842.5 3464.6 842.5C3469.1 842.5 3473.7 895.4 3478.3 895.4C3482.9 895.4 3487.5 856.4 3492.0 856.4C3496.6 856.4 3501.2 859.2 3505.8 859.2C3510.4 859.2 3514.9 855.5 3519.5 853.6C3524.1 851.7 3528.7 850.6 3533.3 848.0C3537.8 845.4 3542.4 841.3 3547.0 835.0C3551.6 828.7 3556.2 807.5 3560.7 800.7C3565.3 793.9 3569.9 786.2 3574.5 786.2C3579.1 786.2 3583.6 790.7 3588.2 794.2C3592.8 797.7 3597.4 803.6 3602.0 810.0C3606.5 816.3 3611.1 834.1 3615.7 834.1C3620.3 834.1 3624.9 793.4 3629.4 781.2C3634.0 769.0 3638.6 762.1 3643.2 753.3C3647.8 744.5 3652.3 738.3 3656.9 728.3C3661.7 717.8 3666.5 704.4 3671.3 689.2"/>
<text class="s" x="3695.6" y="280.1" fill="#DB4437">S&amp;P 500</text>
<text class="s" x="3695.8" y="665" fill="#F4B400">IWDA</text>
<text class="s" x="3695.6" y="724.8" fill="#4285F4">VWCE</text>
</svg></body></html>
